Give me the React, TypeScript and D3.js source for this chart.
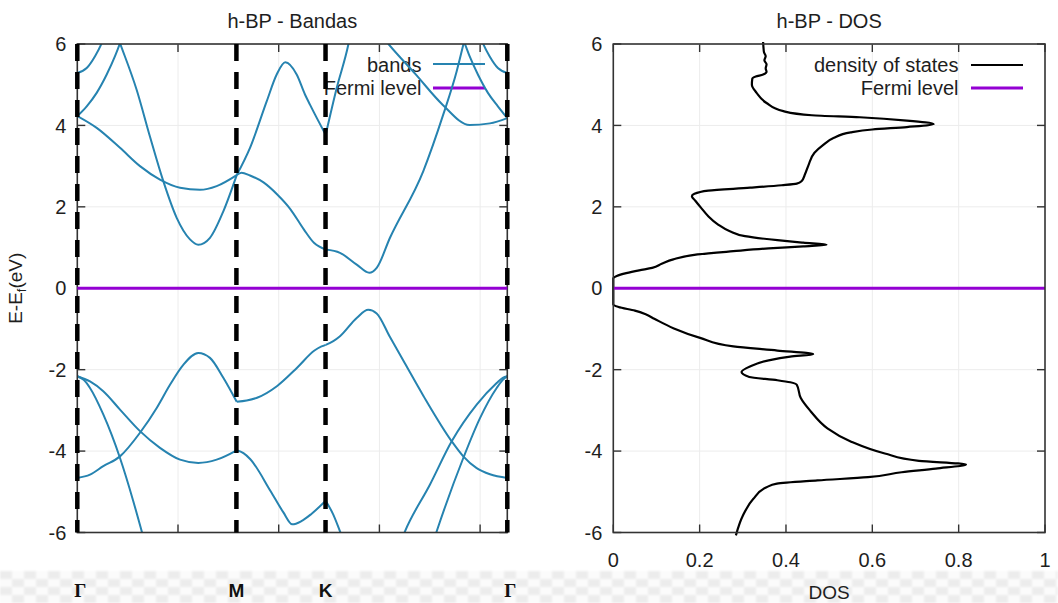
import React from "react";
import * as d3 from "d3";

// high symmetry path (k in 2pi/a units)
const kLabels = ["Γ", "M", "K", "Γ"];
const kPoints = [0, 0.316, 0.493, 0.854];
const kTicks = [0.2, 0.4, 0.6, 0.8];
const eTicks = [-6, -4, -2, 0, 2, 4, 6];
const dosTicks = [0, 0.2, 0.4, 0.6, 0.8, 1];

// valence bands, [k, E] per segment
const vGM1 = [[0, -4.66], [0.0252, -4.58], [0.0516, -4.37], [0.0848, -4.13], [0.1245, -3.55], [0.1577, -2.94], [0.1841, -2.37], [0.2105, -1.88], [0.2403, -1.59], [0.2635, -1.71], [0.29, -2.2], [0.3166, -2.79]];
const vGM2 = [[0, -2.16], [0.0252, -2.29], [0.0516, -2.53], [0.0848, -2.98], [0.1245, -3.51], [0.1642, -3.92], [0.204, -4.21], [0.2403, -4.29], [0.2768, -4.21], [0.3166, -3.98]];
const vGM3 = [[0, -2.16], [0.0126, -2.25], [0.0252, -2.45], [0.0516, -3.1], [0.0848, -4.17], [0.1112, -5.23], [0.1279, -5.97], [0.14, -6.5]];
const vMK1 = [[0.3166, -2.79], [0.3364, -2.76], [0.357, -2.69], [0.397, -2.4], [0.4375, -1.94], [0.471, -1.53], [0.485, -1.43], [0.4933, -1.39]];
const vMK2 = [[0.3166, -3.98], [0.33, -4.05], [0.3436, -4.2], [0.3837, -4.98], [0.409, -5.5], [0.427, -5.8], [0.445, -5.72], [0.4643, -5.55], [0.4933, -5.22]];
const vKG1 = [[0.4933, -1.39], [0.5084, -1.3], [0.5217, -1.18], [0.5549, -0.73], [0.5779, -0.53], [0.5946, -0.62], [0.621, -1.2], [0.6508, -1.85], [0.6872, -2.64], [0.7436, -3.76], [0.7666, -4.13], [0.7932, -4.42], [0.8196, -4.57], [0.854, -4.66]];
const vKG2 = [[0.4933, -5.22], [0.5084, -5.56], [0.5217, -5.97], [0.535, -6.4]];
const vKG3 = [[0.64, -6.3], [0.6508, -5.97], [0.7005, -4.82], [0.7436, -3.76], [0.7932, -2.86], [0.8329, -2.33], [0.845, -2.2], [0.854, -2.16]];
const vKG4 = [[0.705, -6.3], [0.7138, -5.97], [0.7666, -4.17], [0.7998, -3.19], [0.8329, -2.45], [0.845, -2.25], [0.854, -2.16]];

// conduction bands
const cGM1 = [[0, 5.29], [0.0187, 5.41], [0.0352, 5.7], [0.0485, 6.02], [0.06, 6.4]];
const cGM2 = [[0, 4.23], [0.0187, 4.47], [0.0385, 4.8], [0.0584, 5.25], [0.0749, 5.7], [0.0848, 6.02], [0.095, 6.4]];
const cGM3 = [[0.072, 6.45], [0.0848, 6.02], [0.118, 4.87], [0.1444, 3.72], [0.1708, 2.63], [0.1974, 1.73], [0.2238, 1.2], [0.2403, 1.07], [0.2635, 1.24], [0.29, 1.89], [0.3166, 2.78]];
const cGM4 = [[0, 4.23], [0.0385, 3.94], [0.0848, 3.45], [0.1245, 3.0], [0.1642, 2.67], [0.204, 2.47], [0.2437, 2.42], [0.2768, 2.51], [0.3166, 2.78]];
const cMK1 = [[0.3166, 2.78], [0.343, 3.45], [0.3761, 4.59], [0.396, 5.25], [0.4131, 5.55], [0.4357, 5.25], [0.4522, 4.76], [0.4621, 4.51], [0.4933, 3.77]];
const cMK2 = [[0.3166, 2.78], [0.3261, 2.84], [0.343, 2.77], [0.3698, 2.6], [0.3966, 2.31], [0.4234, 1.94], [0.4502, 1.44], [0.4705, 1.11], [0.4933, 0.95]];
const cKG1 = [[0.4933, 0.95], [0.5217, 0.87], [0.5549, 0.58], [0.5799, 0.38], [0.5946, 0.5], [0.621, 1.24], [0.6872, 2.88], [0.7269, 4.27], [0.7535, 5.33], [0.7666, 5.98], [0.775, 6.4]];
const cKG2 = [[0.4933, 3.77], [0.5152, 4.92], [0.5382, 5.98], [0.545, 6.4]];
const cKG3 = [[0.595, 6.35], [0.618, 6.0], [0.6717, 5.26], [0.7255, 4.51], [0.779, 4.01], [0.8194, 4.05], [0.854, 4.18]];
const cKG4 = [[0.755, 6.4], [0.7692, 6.02], [0.7791, 5.7], [0.7956, 5.25], [0.8155, 4.8], [0.8353, 4.47], [0.854, 4.18]];
const cKG5 = [[0.794, 6.4], [0.8055, 6.02], [0.8188, 5.7], [0.8353, 5.41], [0.854, 5.29]];

const bands = [vGM1, vGM2, vGM3, vMK1, vMK2, vKG1, vKG2, vKG3, vKG4,
  cGM1, cGM2, cGM3, cGM4, cMK1, cMK2, cKG1, cKG2, cKG3, cKG4, cKG5];

// density of states, [E, dos]
const dos = [[6.05, 0.347], [5.9, 0.348], [5.8, 0.349], [5.7, 0.353], [5.6, 0.35], [5.5, 0.355], [5.4, 0.353], [5.32, 0.355], [5.25, 0.347], [5.2, 0.33], [5.15, 0.322], [5.0, 0.321], [4.8, 0.332], [4.55, 0.355], [4.35, 0.394], [4.25, 0.46], [4.2, 0.571], [4.12, 0.68], [4.03, 0.742], [3.96, 0.68], [3.9, 0.6], [3.83, 0.55], [3.69, 0.51], [3.51, 0.485], [3.33, 0.466], [3.02, 0.452], [2.8, 0.444], [2.63, 0.436], [2.57, 0.425], [2.53, 0.39], [2.47, 0.317], [2.4, 0.22], [2.32, 0.188], [2.26, 0.182], [2.15, 0.19], [1.98, 0.203], [1.77, 0.22], [1.57, 0.242], [1.4, 0.27], [1.28, 0.305], [1.18, 0.38], [1.12, 0.44], [1.07, 0.494], [1.03, 0.44], [0.98, 0.36], [0.91, 0.278], [0.83, 0.195], [0.71, 0.139], [0.6, 0.112], [0.5, 0.09], [0.44, 0.06], [0.37, 0.03], [0.3, 0.008], [0.25, 0], [-0.4, 0], [-0.46, 0.012], [-0.55, 0.05], [-0.64, 0.075], [-0.75, 0.095], [-0.98, 0.139], [-1.22, 0.201], [-1.43, 0.278], [-1.53, 0.38], [-1.62, 0.463], [-1.68, 0.41], [-1.77, 0.36], [-1.92, 0.317], [-2.06, 0.297], [-2.18, 0.315], [-2.26, 0.38], [-2.31, 0.41], [-2.37, 0.425], [-2.69, 0.434], [-3.02, 0.457], [-3.44, 0.496], [-3.77, 0.551], [-4.06, 0.629], [-4.24, 0.708], [-4.33, 0.817], [-4.43, 0.747], [-4.52, 0.668], [-4.64, 0.59], [-4.72, 0.473], [-4.8, 0.379], [-4.89, 0.355], [-5.18, 0.324], [-5.59, 0.3], [-6.07, 0.284]];

const BAND = "#2683b0";
const FERMI = "#9400d3";
const FRAME = "#333";
const GRID = "#ececec";
const TXT = "#1e1e1e";
const FONT = "'Liberation Sans', Arial, sans-serif";
const FS = 20;

export default function App() {
  const W = 1058, H = 603;
  const top = 44, bottom = 532.5;
  const xk = d3.scaleLinear().domain([0, 0.854]).range([77.3, 507.3]);
  const xd = d3.scaleLinear().domain([0, 1]).range([613.3, 1045]);
  const y = d3.scaleLinear().domain([-6, 6]).range([bottom, top]);

  const bandLine = d3.line<number[]>()
    .x((d) => xk(d[0]))
    .y((d) => y(d[1]))
    .curve(d3.curveMonotoneX);
  const dosLine = d3.line<number[]>()
    .x((d) => xd(d[1]))
    .y((d) => y(d[0]))
    .curve(d3.curveMonotoneY);
  const dosSorted = [...dos].sort((a, b) => a[0] - b[0]);

  const frame = (x0: number, x1: number) => (
    <rect x={x0} y={top} width={x1 - x0} height={bottom - top} fill="none" stroke={FRAME} strokeWidth={1.6} />
  );
  const yAxis = (x0: number, x1: number) => (
    <g>
      {eTicks.map((t) => (
        <g key={t}>
          <line x1={x0} x2={x1} y1={y(t)} y2={y(t)} stroke={GRID} strokeWidth={1} />
          <line x1={x0} x2={x0 + 8} y1={y(t)} y2={y(t)} stroke={FRAME} strokeWidth={1.4} />
          <line x1={x1 - 8} x2={x1} y1={y(t)} y2={y(t)} stroke={FRAME} strokeWidth={1.4} />
          <text x={x0 - 11} y={y(t)} dy="0.36em" textAnchor="end" fontSize={FS} fill={TXT}>{t}</text>
        </g>
      ))}
    </g>
  );

  const checkerY = 571;

  return (
    <svg width={W} height={H} style={{ position: "absolute", left: 0, top: 0, background: "#fff" }} fontFamily={FONT}>
      <defs>
        <clipPath id="bandClip">
          <rect x={xk(0)} y={top} width={xk(0.854) - xk(0)} height={bottom - top} />
        </clipPath>
        <pattern id="checker" width={24} height={16} patternUnits="userSpaceOnUse" x={0} y={checkerY}>
          <rect width={24} height={16} fill="#fbfbfb" />
          <rect width={12} height={8} fill="#ececec" />
          <rect x={12} y={8} width={12} height={8} fill="#ececec" />
        </pattern>
        <filter id="soft"><feGaussianBlur stdDeviation={1.2} /></filter>
      </defs>
      <rect width={W} height={H} fill="#fff" />
      <rect x={0} y={checkerY} width={W} height={H - checkerY} fill="url(#checker)" filter="url(#soft)" />

      {/* ---- band structure ---- */}
      <text x={(xk(0) + xk(0.854)) / 2} y={28} textAnchor="middle" fontSize={FS} fill={TXT}>h-BP - Bandas</text>
      {kTicks.map((t) => (
        <g key={t}>
          <line x1={xk(t)} x2={xk(t)} y1={top} y2={bottom} stroke={GRID} strokeWidth={1} />
          <line x1={xk(t)} x2={xk(t)} y1={bottom} y2={bottom - 8} stroke={FRAME} strokeWidth={1.4} />
          <line x1={xk(t)} x2={xk(t)} y1={top} y2={top + 8} stroke={FRAME} strokeWidth={1.4} />
        </g>
      ))}
      {yAxis(xk(0), xk(0.854))}
      {/* legend sits under the curves and dashed lines */}
      <text x={421.5} y={65} dy="0.36em" textAnchor="end" fontSize={FS} fill={TXT}>bands</text>
      <line x1={433} x2={485} y1={64} y2={64} stroke={BAND} strokeWidth={2} />
      <text x={421.5} y={88} dy="0.36em" textAnchor="end" fontSize={FS} fill={TXT}>Fermi level</text>
      <line x1={433} x2={485} y1={88} y2={88} stroke={FERMI} strokeWidth={3} />
      <g clipPath="url(#bandClip)">
        {bands.map((b, i) => (
          <path key={i} d={bandLine(b) || ""} fill="none" stroke={BAND} strokeWidth={2} />
        ))}
      </g>
      {frame(xk(0), xk(0.854))}
      {kPoints.map((k, i) => (
        <line key={i} x1={xk(k)} x2={xk(k)} y1={top} y2={bottom} stroke="#000" strokeWidth={4.5} strokeDasharray="17 11" />
      ))}
      <line x1={xk(0)} x2={xk(0.854)} y1={y(0)} y2={y(0)} stroke={FERMI} strokeWidth={3} />
      {/* axis titles */}
      <text transform={`translate(22,${y(0)}) rotate(-90)`} textAnchor="middle" fontSize={19} fill={TXT}>
        E-E<tspan dy={4} fontSize={13}>f</tspan><tspan dy={-4}>(eV)</tspan>
      </text>
      {kLabels.map((l, i) => (
        <text key={i} x={xk(kPoints[i]) + (l === "Γ" ? 3 : 0)} y={597} textAnchor="middle" fontSize={19} fontWeight="bold"
          fontFamily={l === "Γ" ? "'Liberation Serif', serif" : FONT} fill="#111">{l}</text>
      ))}

      {/* ---- density of states ---- */}
      <text x={(xd(0) + xd(1)) / 2} y={28} textAnchor="middle" fontSize={FS} fill={TXT}>h-BP - DOS</text>
      {dosTicks.map((t) => (
        <g key={t}>
          {t > 0 && t < 1 && <line x1={xd(t)} x2={xd(t)} y1={top} y2={bottom} stroke={GRID} strokeWidth={1} />}
          <line x1={xd(t)} x2={xd(t)} y1={bottom} y2={bottom - 8} stroke={FRAME} strokeWidth={1.4} />
          <line x1={xd(t)} x2={xd(t)} y1={top} y2={top + 8} stroke={FRAME} strokeWidth={1.4} />
          <text x={xd(t)} y={567} textAnchor="middle" fontSize={FS} fill={TXT}>{t}</text>
        </g>
      ))}
      {yAxis(xd(0), xd(1))}
      <text x={958.5} y={65} dy="0.36em" textAnchor="end" fontSize={FS} fill={TXT}>density of states</text>
      <line x1={971} x2={1023} y1={65} y2={65} stroke="#000" strokeWidth={2} />
      <text x={958.5} y={88} dy="0.36em" textAnchor="end" fontSize={FS} fill={TXT}>Fermi level</text>
      <line x1={971} x2={1023} y1={88} y2={88} stroke={FERMI} strokeWidth={3} />
      <path d={dosLine(dosSorted) || ""} fill="none" stroke="#000" strokeWidth={2.2} />
      <line x1={xd(0)} x2={xd(1)} y1={y(0)} y2={y(0)} stroke={FERMI} strokeWidth={3} />
      {frame(xd(0), xd(1))}
      <text x={(xd(0) + xd(1)) / 2} y={599} textAnchor="middle" fontSize={19} fill={TXT}>DOS</text>
    </svg>
  );
}
